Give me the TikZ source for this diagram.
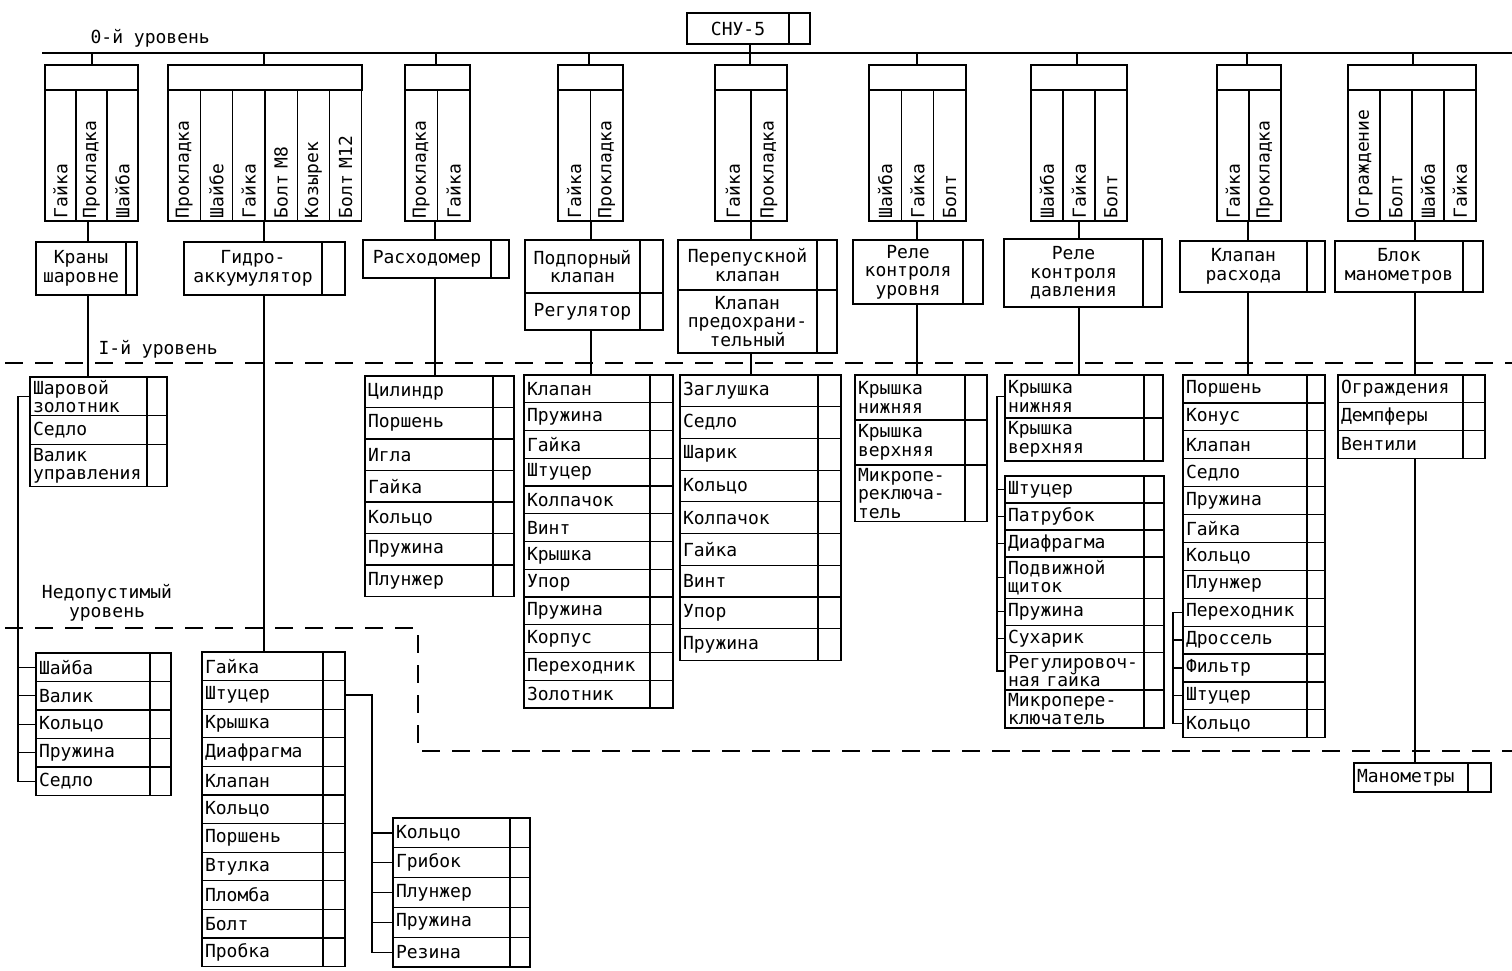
\documentclass[tikz,border=0pt]{standalone}
\usepackage{fontspec}
\newfontfamily\tw{DejaVu Sans Mono}
\usetikzlibrary{positioning}

\begin{document}
\begin{tikzpicture}[
    x=1pt, y=-1pt,
    line width=1.2pt,
    box/.style={draw, outer sep=0pt, inner xsep=3pt, inner ysep=3pt,
                font=\tw\fontsize{18}{18.5}\selectfont},
    tail/.style={append after command={\pgfextra{%
        \draw (\tikzlastnode.north east) -- ++(#1pt,0) |- (\tikzlastnode.south east);}}},
    item/.style 2 args={box, text width=#1pt, minimum height=#2pt, align=left},
    unit/.style 2 args={box, text width=#1pt, minimum height=#2pt, align=center, anchor=north west},
    vcell/.style={box, rotate=90, text width=125pt, minimum height=#1pt, align=left, anchor=north east},
    hdr/.style={draw, outer sep=0pt, minimum width=#1pt, minimum height=25pt, anchor=north west},
    lvl/.style={dash pattern=on 18pt off 12pt},
    note/.style={font=\tw\fontsize{18}{18.5}\selectfont, inner sep=0pt}
]
\useasboundingbox (0,0) rectangle (1512,971);

% ── levels ───────────────────────────────────────────────────────────────────
\coordinate (l0a) at (42,53);
\coordinate (l0b) at (1512,53);
\draw (l0a) -- (l0b);
\node[note, anchor=west] (lv0) at (90,38) {0-й уровень};
\draw[lvl] (5,363) -- (1512,363);
\node[note, anchor=west] (lv1) at (98,349) {I-й уровень};
\draw[lvl] (5,628) -- (418,628) -- (418,751) -- (1512,751);
\node[note, align=center] (lv2) at (107,603) {Недопустимый\\уровень};

% ── top unit ─────────────────────────────────────────────────────────────────
\node[unit={96}{31}, tail=21] (sny) at (687,13) {СНУ-5};

% ── fasteners (vertical cells) ───────────────────────────────────────────────
\foreach \g/\x/\w/\hw/\parts in {%
    1/45/31/93/{Гайка,Прокладка,Шайба},%
    2/168/32.3/194/{Прокладка,Шайбе,Гайка,Болт М8,Козырек,Болт М12},%
    3/405/32.5/65/{Прокладка,Гайка},%
    4/558/32.5/65/{Гайка,Прокладка},%
    5/715/36/72/{Гайка,Прокладка},%
    6/869/32.3/97/{Шайба,Гайка,Болт},%
    7/1031/32/96/{Шайба,Гайка,Болт},%
    8/1217/32/64/{Гайка,Прокладка},%
    9/1348/32/128/{Ограждение,Болт,Шайба,Гайка}} {
  \node[hdr=\hw] (h\g) at (\x,65) {};
  \foreach \t [count=\i] in \parts
    \node[vcell=\w] (f\g-\i) at ({\x+\w*(\i-1)},90) {\t};
}

% ── units of level 0 ─────────────────────────────────────────────────────────
\node[unit={84}{53}, tail=11] (a1) at (36,242) {Краны\\шаровне};
\node[unit={132}{53}, tail=23] (a2) at (184,242) {Гидро-\\аккумулятор};
\node[unit={122}{38}, tail=18] (a3) at (363,240) {Расходомер};
\node[unit={109}{53}, tail=23] (a4) at (525,240) {Подпорный\\клапан};
\node[unit={109}{37}, tail=23, below=0pt of a4] (a4b) {Регулятор};
\node[unit={133}{50}, tail=20] (a5) at (678,240) {Перепускной\\клапан};
\node[unit={133}{63}, tail=20, below=0pt of a5] (a5b) {Клапан\\предохрани-\\тельный};
\node[unit={104}{64}, tail=20] (a6) at (853,240) {Реле\\контроля\\уровня};
\node[unit={133}{68}, tail=19] (a7) at (1004,239) {Реле\\контроля\\давления};
\node[unit={121}{51}, tail=18] (a8) at (1180,241) {Клапан\\расхода};
\node[unit={122}{51}, tail=20] (a9) at (1335,241) {Блок\\манометров};

% ── level I lists ────────────────────────────────────────────────────────────
\coordinate (shz0) at (88.5,377);
\foreach \t [count=\i, remember=\i as \p (initially 0)] in {Шаровой\\золотник,Седло,Валик\\управления}
  \node[item={111}{29}, tail=20, below=0pt of shz\p] (shz\i) {\t};

\coordinate (cl0) at (429,376);
\foreach \t [count=\i, remember=\i as \p (initially 0)] in {Цилиндр,Поршень,Игла,Гайка,Кольцо,Пружина,Плунжер}
  \node[item={122}{31.5}, tail=21, below=0pt of cl\p] (cl\i) {\t};

\coordinate (kl0) at (587,375);
\foreach \t [count=\i, remember=\i as \p (initially 0)] in {Клапан,Пружина,Гайка,Штуцер,Колпачок,Винт,Крышка,Упор,Пружина,Корпус,Переходник,Золотник}
  \node[item={120}{27.75}, tail=23, below=0pt of kl\p] (kl\i) {\t};

\coordinate (zg0) at (749,375);
\foreach \t [count=\i, remember=\i as \p (initially 0)] in {Заглушка,Седло,Шарик,Кольцо,Колпачок,Гайка,Винт,Упор,Пружина}
  \node[item={132}{31.7}, tail=23, below=0pt of zg\p] (zg\i) {\t};

\coordinate (ru0) at (910,375);
\foreach \t [count=\i, remember=\i as \p (initially 0)] in {Крышка\\нижняя,Крышка\\верхняя,Микропе-\\реключа-\\тель}
  \node[item={104}{45}, tail=22, below=0pt of ru\p] (ru\i) {\t};

\coordinate (rda0) at (1074.5,375);
\foreach \t [count=\i, remember=\i as \p (initially 0)] in {Крышка\\нижняя,Крышка\\верхняя}
  \node[item={133}{43}, tail=19, below=0pt of rda\p] (rda\i) {\t};

\coordinate (rdb0) at (1074.5,476);
\foreach \t [count=\i, remember=\i as \p (initially 0)] in {Штуцер,Патрубок,Диафрагма,Подвижной\\щиток,Пружина,Сухарик,Регулировоч-\\ная гайка,Микропере-\\ключатель}
  \node[item={133}{27}, tail=20, below=0pt of rdb\p] (rdb\i) {\t};

\coordinate (kr0) at (1245,375);
\foreach \t [count=\i, remember=\i as \p (initially 0)] in {Поршень,Конус,Клапан,Седло,Пружина,Гайка,Кольцо,Плунжер,Переходник,Дроссель,Фильтр,Штуцер,Кольцо}
  \node[item={118}{27.9}, tail=18, below=0pt of kr\p] (kr\i) {\t};

\coordinate (bm0) at (1400.5,375);
\foreach \t [count=\i, remember=\i as \p (initially 0)] in {Ограждения,Демпферы,Вентили}
  \node[item={119}{27.7}, tail=22, below=0pt of bm\p] (bm\i) {\t};

% ── lower lists ──────────────────────────────────────────────────────────────
\coordinate (ls0) at (93,653);
\foreach \t [count=\i, remember=\i as \p (initially 0)] in {Шайба,Валик,Кольцо,Пружина,Седло}
  \node[item={108}{28.5}, tail=21, below=0pt of ls\p] (ls\i) {\t};

\coordinate (gk0) at (262.5,652);
\foreach \t [count=\i, remember=\i as \p (initially 0)] in {Гайка,Штуцер,Крышка,Диафрагма,Клапан,Кольцо,Поршень,Втулка,Пломба,Болт,Пробка}
  \node[item={115}{28.6}, tail=22, below=0pt of gk\p] (gk\i) {\t};

\coordinate (sb0) at (451.5,818);
\foreach \t [count=\i, remember=\i as \p (initially 0)] in {Кольцо,Грибок,Плунжер,Пружина,Резина}
  \node[item={111}{29.8}, tail=20, below=0pt of sb\p] (sb\i) {\t};

\node[item={108}{29}, tail=23, anchor=north west] (mn) at (1354,763) {Манометры};

% ── connectors ───────────────────────────────────────────────────────────────
\foreach \g/\x in {1/92,2/264,3/436,4/589,5/750,6/917,7/1077,8/1247,9/1413}
  \coordinate (t\g) at (\x,53);
\foreach \g/\x in {1/88,2/264,3/435,4/591,5/751,6/917,7/1079,8/1248,9/1415}
  \coordinate (d\g) at (\x,221);
\draw (t5 |- sny.south) -- (t5);
\foreach \g in {1,...,9} {
  \draw (t\g) -- (t\g |- h\g.north);
  \draw (d\g) -- (d\g |- a\g.north);
}
\draw (d1 |- a1.south) -- (d1 |- shz1.north);
\draw (d2 |- a2.south) -- (d2 |- gk1.north);
\draw (d3 |- a3.south) -- (d3 |- cl1.north);
\draw (d4 |- a4b.south) -- (d4 |- kl1.north);
\draw (d5 |- a5b.south) -- (d5 |- zg1.north);
\draw (d6 |- a6.south) -- (d6 |- ru1.north);
\draw (d7 |- a7.south) -- (d7 |- rda1.north);
\draw (d8 |- a8.south) -- (d8 |- kr1.north);
\draw (d9 |- a9.south) -- (d9 |- bm1.north);
\draw (d9 |- bm3.south) -- (d9 |- mn.north);

% brackets
\coordinate (ba) at (18,0);
\draw (shz1.west) -- (shz1.west -| ba) -- (ls5.west -| ba) -- (ls5.west);
\foreach \i in {1,...,4}
  \draw (ls\i.west -| ba) -- (ls\i.west);

\coordinate (bb) at (997,0);
\draw (rda1.west) -- (rda1.west -| bb) -- (rdb7.west -| bb) -- (rdb7.west);
\foreach \i in {1,...,6}
  \draw (rdb\i.west -| bb) -- (rdb\i.west);

\coordinate (bc) at (1173,0);
\draw (kr9.west) -- (kr9.west -| bc) -- (kr13.west -| bc) -- (kr13.west);
\foreach \i in {10,11,12}
  \draw (kr\i.west -| bc) -- (kr\i.west);

\coordinate (bd) at (372,0);
\coordinate (gs) at (345,0);
\draw (gk2.east -| gs) -- (gk2.east -| bd) -- (sb5.west -| bd) -- (sb5.west);
\foreach \i in {1,...,4}
  \draw (sb\i.west -| bd) -- (sb\i.west);

\end{tikzpicture}
\end{document}
